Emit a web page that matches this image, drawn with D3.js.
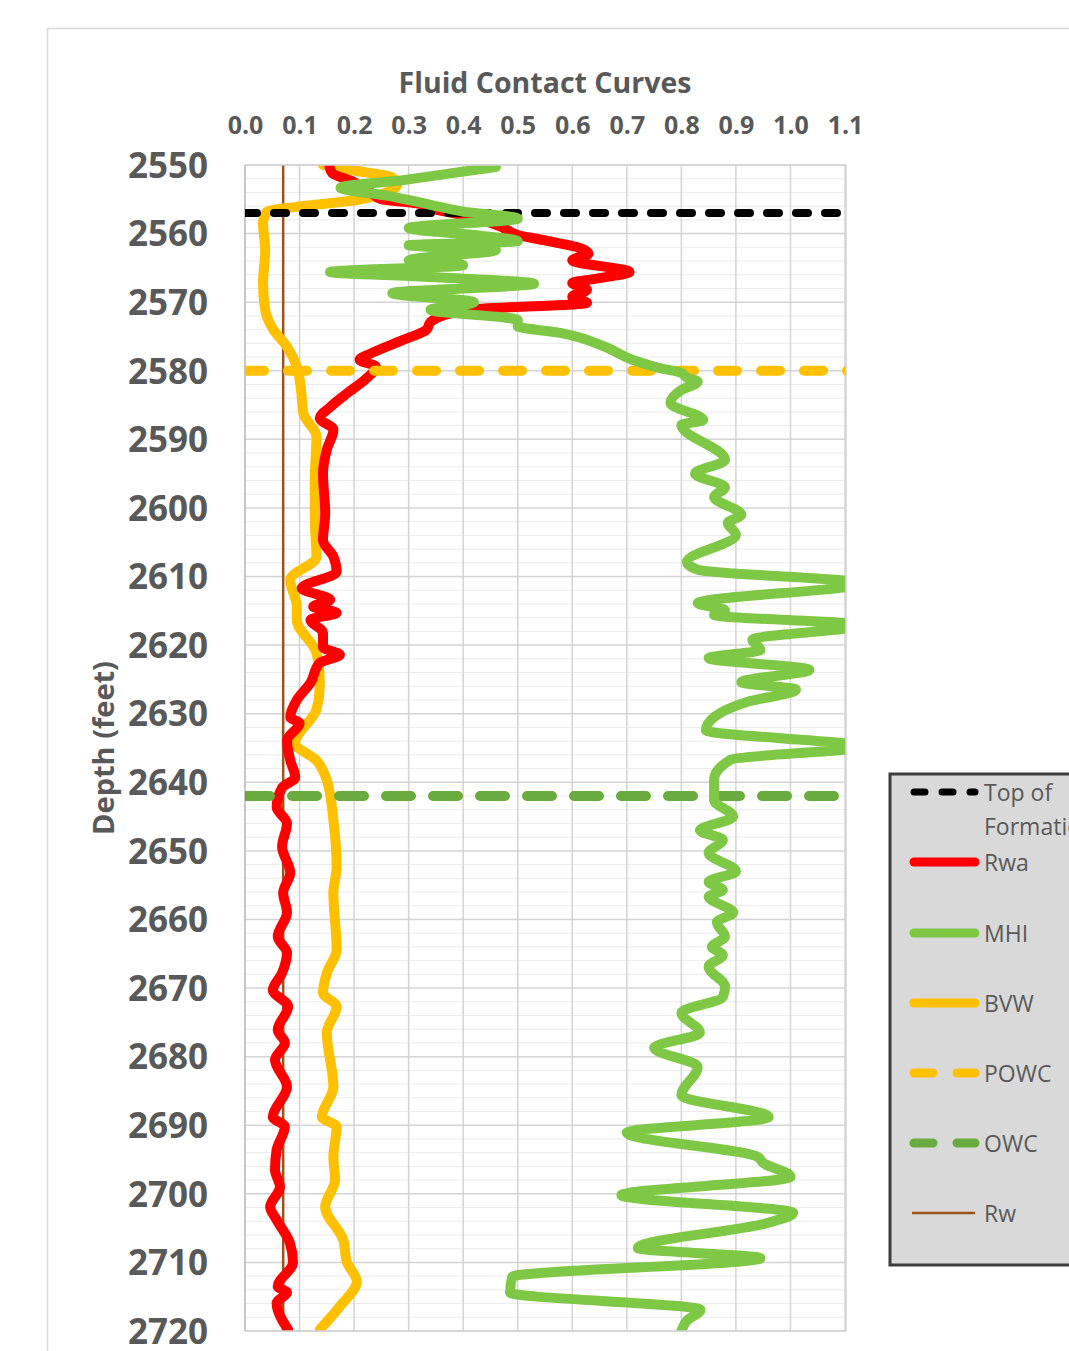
<!DOCTYPE html>
<html><head><meta charset="utf-8">
<script src="https://cdn.jsdelivr.net/npm/d3@7"></script>
<style>
html,body{margin:0;padding:0;background:#fff;}
svg{display:block;font-family:"Open Sans",sans-serif;}
</style></head>
<body>
<svg id="chart" width="1069" height="1351"></svg>
<script>
// ---------- data (depth in feet, value) ----------
const depthTicks = [2550,2560,2570,2580,2590,2600,2610,2620,2630,2640,2650,2660,2670,2680,2690,2700,2710,2720];
const valueTicks = [0.0,0.1,0.2,0.3,0.4,0.5,0.6,0.7,0.8,0.9,1.0,1.1];

const rwaData = [[2550.3,0.155],[2551.2,0.16],[2552.5,0.20],[2554,0.23],[2555,0.25],[2555.6,0.315],[2556.5,0.35],[2557.3,0.40],[2559,0.47],[2560.2,0.50],[2561.0,0.55],[2562,0.61],[2562.9,0.63],[2563.9,0.60],[2565.6,0.705],[2566.5,0.65],[2567.2,0.60],[2568.2,0.627],[2569.2,0.60],[2570.1,0.627],[2571.1,0.41],[2572.9,0.34],[2574,0.333],[2575.5,0.29],[2577.5,0.23],[2578.4,0.21],[2579.4,0.24],[2581.3,0.22],[2583.3,0.187],[2585.3,0.156],[2586.9,0.137],[2588.6,0.162],[2591.5,0.15],[2595,0.143],[2600.8,0.147],[2604.7,0.143],[2607.1,0.162],[2609.3,0.168],[2611.7,0.104],[2613.4,0.156],[2614.4,0.125],[2615.3,0.168],[2616.3,0.12],[2618.2,0.143],[2620.3,0.143],[2621.4,0.174],[2622.6,0.137],[2625.5,0.12],[2628,0.095],[2630.5,0.083],[2631.4,0.10],[2633.9,0.077],[2636.8,0.083],[2639.3,0.092],[2640.8,0.068],[2643.6,0.058],[2646,0.077],[2649.4,0.068],[2653.2,0.083],[2656.1,0.07],[2659,0.077],[2662.5,0.06],[2664.9,0.077],[2667.8,0.068],[2670.3,0.051],[2672.7,0.079],[2676.1,0.06],[2678,0.073],[2680.5,0.055],[2684.4,0.077],[2688.8,0.051],[2690.2,0.073],[2693.6,0.058],[2696.5,0.055],[2699,0.064],[2701.9,0.046],[2703.8,0.058],[2707.1,0.082],[2710,0.088],[2713.5,0.06],[2714.4,0.077],[2715.9,0.058],[2719.8,0.079]];

const mhiData = [[2550.3,0.46],[2551.3,0.37],[2552.2,0.29],[2553.3,0.175],[2554.6,0.27],[2555.8,0.34],[2556.8,0.40],[2557.8,0.50],[2559.2,0.30],[2560.2,0.42],[2561.1,0.50],[2561.7,0.30],[2562.4,0.46],[2563.9,0.30],[2564.6,0.40],[2565.6,0.156],[2566.3,0.33],[2567.3,0.53],[2568.7,0.27],[2570.0,0.42],[2571.1,0.34],[2572.6,0.50],[2573.5,0.50],[2574.5,0.58],[2576.5,0.66],[2578.4,0.71],[2579.6,0.76],[2580.3,0.80],[2581.0,0.81],[2581.6,0.83],[2582.8,0.80],[2584.7,0.78],[2587.2,0.84],[2587.9,0.80],[2593.0,0.88],[2595.0,0.825],[2597.0,0.88],[2598.4,0.86],[2601.0,0.91],[2602.2,0.885],[2603.9,0.90],[2607.9,0.81],[2609.0,0.83],[2611.0,1.13],[2613.9,0.83],[2614.9,0.88],[2615.6,0.86],[2617.1,1.13],[2619.2,0.93],[2620.7,0.945],[2621.9,0.85],[2623.6,1.035],[2625.4,0.91],[2626.5,1.01],[2628.3,0.92],[2630.5,0.86],[2632.4,0.845],[2634.8,1.13],[2636.7,0.89],[2639.6,0.86],[2642.6,0.86],[2645.0,0.895],[2647.0,0.834],[2648.4,0.876],[2650.3,0.85],[2653.0,0.90],[2654.5,0.85],[2655.7,0.876],[2656.7,0.85],[2659.0,0.895],[2660.4,0.865],[2662.5,0.88],[2664.0,0.856],[2665.2,0.876],[2666.9,0.85],[2669.8,0.88],[2671.3,0.876],[2673.6,0.80],[2676.5,0.834],[2678.7,0.75],[2681.5,0.83],[2685.6,0.80],[2688.8,0.96],[2691.1,0.70],[2694.6,0.94],[2695.5,0.95],[2697.5,1.0],[2700.2,0.69],[2702.8,1.005],[2704.2,0.96],[2707.9,0.72],[2709.4,0.945],[2712.1,0.49],[2714.4,0.486],[2716.9,0.835],[2718.5,0.81],[2720,0.80]];

const bvwData = [[2550,0.143],[2550.8,0.20],[2551.7,0.266],[2552.7,0.28],[2554,0.26],[2555.1,0.205],[2556.1,0.095],[2556.8,0.04],[2558.5,0.033],[2562.4,0.037],[2567.2,0.033],[2571.1,0.037],[2574,0.052],[2576.5,0.077],[2579.4,0.095],[2583,0.103],[2586.2,0.107],[2589.6,0.131],[2595.9,0.128],[2601.7,0.128],[2607.1,0.131],[2610.5,0.083],[2614.4,0.095],[2616.3,0.095],[2621.1,0.131],[2624.6,0.137],[2626.1,0.137],[2629.4,0.131],[2634.3,0.092],[2636.8,0.131],[2639.7,0.15],[2645.5,0.162],[2652.3,0.168],[2656.1,0.162],[2664.4,0.168],[2667.8,0.15],[2670.7,0.143],[2672.7,0.168],[2676.5,0.15],[2684.4,0.162],[2688.8,0.141],[2690.2,0.168],[2694.6,0.162],[2698,0.165],[2701.9,0.147],[2706.7,0.18],[2710,0.187],[2712.8,0.205],[2716.4,0.174],[2719.8,0.137]];

const topFormationDepth = 2557;
const powcDepth = 2580;
const owcDepth = 2642;
const rwValue = 0.07;

const legendLabels = ["Top of Formation","Rwa","MHI","BVW","POWC","OWC","Rw"];

// ---------- layout ----------
const svg = d3.select("#chart");
const L = 245, R = 845, T = 165, B = 1331;
const x = d3.scaleLinear().domain([0, 1.1]).range([L, R]);
const y = d3.scaleLinear().domain([2550, 2720]).range([T, B]);
const textCol = "#595959";

// outer chart area border
svg.append("path").attr("d", `M47.5,1351 V28.5 H1069`).attr("fill","none").attr("stroke","#d9d9d9").attr("stroke-width",1.5);

// minor horizontal grid (every 2 ft)
const minor = d3.range(2552, 2720, 2).filter(d => d % 10 !== 0);
svg.append("g").selectAll("line").data(minor).join("line")
  .attr("x1", L).attr("x2", R).attr("y1", d => y(d)).attr("y2", d => y(d))
  .attr("stroke", "#ebebeb").attr("stroke-width", 1);
// major horizontal grid
svg.append("g").selectAll("line").data(depthTicks).join("line")
  .attr("x1", L).attr("x2", R).attr("y1", d => y(d)).attr("y2", d => y(d))
  .attr("stroke", "#d4d4d4").attr("stroke-width", 1.5);
// vertical grid
svg.append("g").selectAll("line").data(valueTicks).join("line")
  .attr("x1", d => x(d)).attr("x2", d => x(d)).attr("y1", T).attr("y2", B)
  .attr("stroke", "#d4d4d4").attr("stroke-width", 1.5);
// left axis line
svg.append("line").attr("x1", L).attr("x2", L).attr("y1", T).attr("y2", B).attr("stroke", "#bfbfbf").attr("stroke-width", 1.5);

// axes labels via d3 axes
const xAxis = d3.axisTop(x).tickValues(valueTicks).tickFormat(d3.format(".1f")).tickSize(0).tickPadding(0);
const gx = svg.append("g").attr("transform", `translate(0,${T - 40})`).call(xAxis);
gx.select(".domain").remove();
gx.selectAll("text").attr("fill", textCol).attr("font-size", 25).attr("font-weight", 700)
  .attr("font-family", '"Open Sans",sans-serif').attr("dy", "0.35em");

const yAxis = d3.axisLeft(y).tickValues(depthTicks).tickFormat(d3.format("d")).tickSize(0).tickPadding(0);
const gy = svg.append("g").attr("transform", `translate(${L - 37},0)`).call(yAxis);
gy.select(".domain").remove();
gy.selectAll("text").attr("fill", textCol).attr("font-size", 35).attr("font-weight", 700)
  .attr("font-family", '"Open Sans",sans-serif').attr("dy", "0.35em");

// titles
svg.append("text").attr("x", 545).attr("y", 82).attr("text-anchor","middle").attr("dominant-baseline","central")
  .attr("fill", textCol).attr("font-size", 28.5).attr("font-weight", 700).text("Fluid Contact Curves");
svg.append("text").attr("transform", "translate(102,748) rotate(-90)").attr("text-anchor","middle").attr("dominant-baseline","central")
  .attr("fill", textCol).attr("font-size", 29).attr("font-weight", 700).text("Depth (feet)");

// clip
svg.append("clipPath").attr("id","plotclip").append("rect").attr("x", L).attr("y", T).attr("width", R - L + 1).attr("height", B - T);
const plot = svg.append("g").attr("clip-path","url(#plotclip)");

// Rw
plot.append("line").attr("x1", x(rwValue)).attr("x2", x(rwValue)).attr("y1", T).attr("y2", B)
  .attr("stroke", "#a0521d").attr("stroke-width", 2.5);

const line = d3.line().x(d => x(d[1])).y(d => y(d[0])).curve(d3.curveMonotoneY);

const colors = {rwa:"#ff0000", mhi:"#7ec845", bvw:"#ffc000", top:"#000000", powc:"#ffc000", owc:"#6aab3f", rw:"#a0521d"};

plot.append("path").datum(bvwData).attr("d", line).attr("fill","none").attr("stroke",colors.bvw)
  .attr("stroke-width", 10).attr("stroke-linejoin","round").attr("stroke-linecap","round");
plot.append("path").datum(rwaData).attr("d", line).attr("fill","none").attr("stroke",colors.rwa)
  .attr("stroke-width", 10).attr("stroke-linejoin","round").attr("stroke-linecap","round");

// contact lines
const contacts = [
  {d: topFormationDepth, c: colors.top, w: 8, dash: "12,17"},
  {d: powcDepth, c: colors.powc, w: 10, dash: "19,24"},
  {d: owcDepth, c: colors.owc, w: 10, dash: "25,22"}
];
plot.selectAll("line.contact").data(contacts).join("line").attr("class","contact")
  .attr("x1", L).attr("x2", R + 3).attr("y1", d => y(d.d)).attr("y2", d => y(d.d))
  .attr("stroke", d => d.c).attr("stroke-width", d => d.w).attr("stroke-dasharray", d => d.dash)
  .attr("stroke-linecap","round");

plot.append("path").datum(mhiData).attr("d", line).attr("fill","none").attr("stroke",colors.mhi)
  .attr("stroke-width", 10).attr("stroke-linejoin","round").attr("stroke-linecap","round");

// plot border (top/right/bottom)
svg.append("path").attr("d", `M${L},${T} H${R + 1} V${B} H${L}`).attr("fill","none").attr("stroke","#d4d4d4").attr("stroke-width",1.5);

// ---------- legend ----------
const lg = svg.append("g");
lg.append("rect").attr("x", 890).attr("y", 774).attr("width", 200).attr("height", 491)
  .attr("fill", "#d9d9d9").attr("stroke", "#3c3c3c").attr("stroke-width", 3);
const legendItems = [
  {label: legendLabels[0], y: 792, c: colors.top, w: 7, dash: "11,17"},
  {label: legendLabels[1], y: 862, c: colors.rwa, w: 9},
  {label: legendLabels[2], y: 933, c: colors.mhi, w: 9},
  {label: legendLabels[3], y: 1003, c: colors.bvw, w: 9},
  {label: legendLabels[4], y: 1073, c: colors.powc, w: 9, dash: "19,24"},
  {label: legendLabels[5], y: 1143, c: colors.owc, w: 9, dash: "19,24"},
  {label: legendLabels[6], y: 1213, c: colors.rw, w: 2.5}
];
legendItems.forEach(it => {
  const xs = it.label === "Rw" ? 912 : 914;
  lg.append("line").attr("x1", xs).attr("x2", 975).attr("y1", it.y).attr("y2", it.y)
    .attr("stroke", it.c).attr("stroke-width", it.w).attr("stroke-linecap", it.label === "Rw" ? "butt" : "round")
    .attr("stroke-dasharray", it.dash || null);
  if (it.label === "Top of Formation") {
    lg.append("text").attr("x", 984).attr("y", it.y).attr("dominant-baseline","central").attr("fill", textCol).attr("font-size", 23).text("Top of");
    lg.append("text").attr("x", 984).attr("y", it.y + 34).attr("dominant-baseline","central").attr("fill", textCol).attr("font-size", 23).text("Formation");
  } else {
    lg.append("text").attr("x", 984).attr("y", it.y).attr("dominant-baseline","central").attr("fill", textCol).attr("font-size", 23).text(it.label);
  }
});
</script>
</body></html>
